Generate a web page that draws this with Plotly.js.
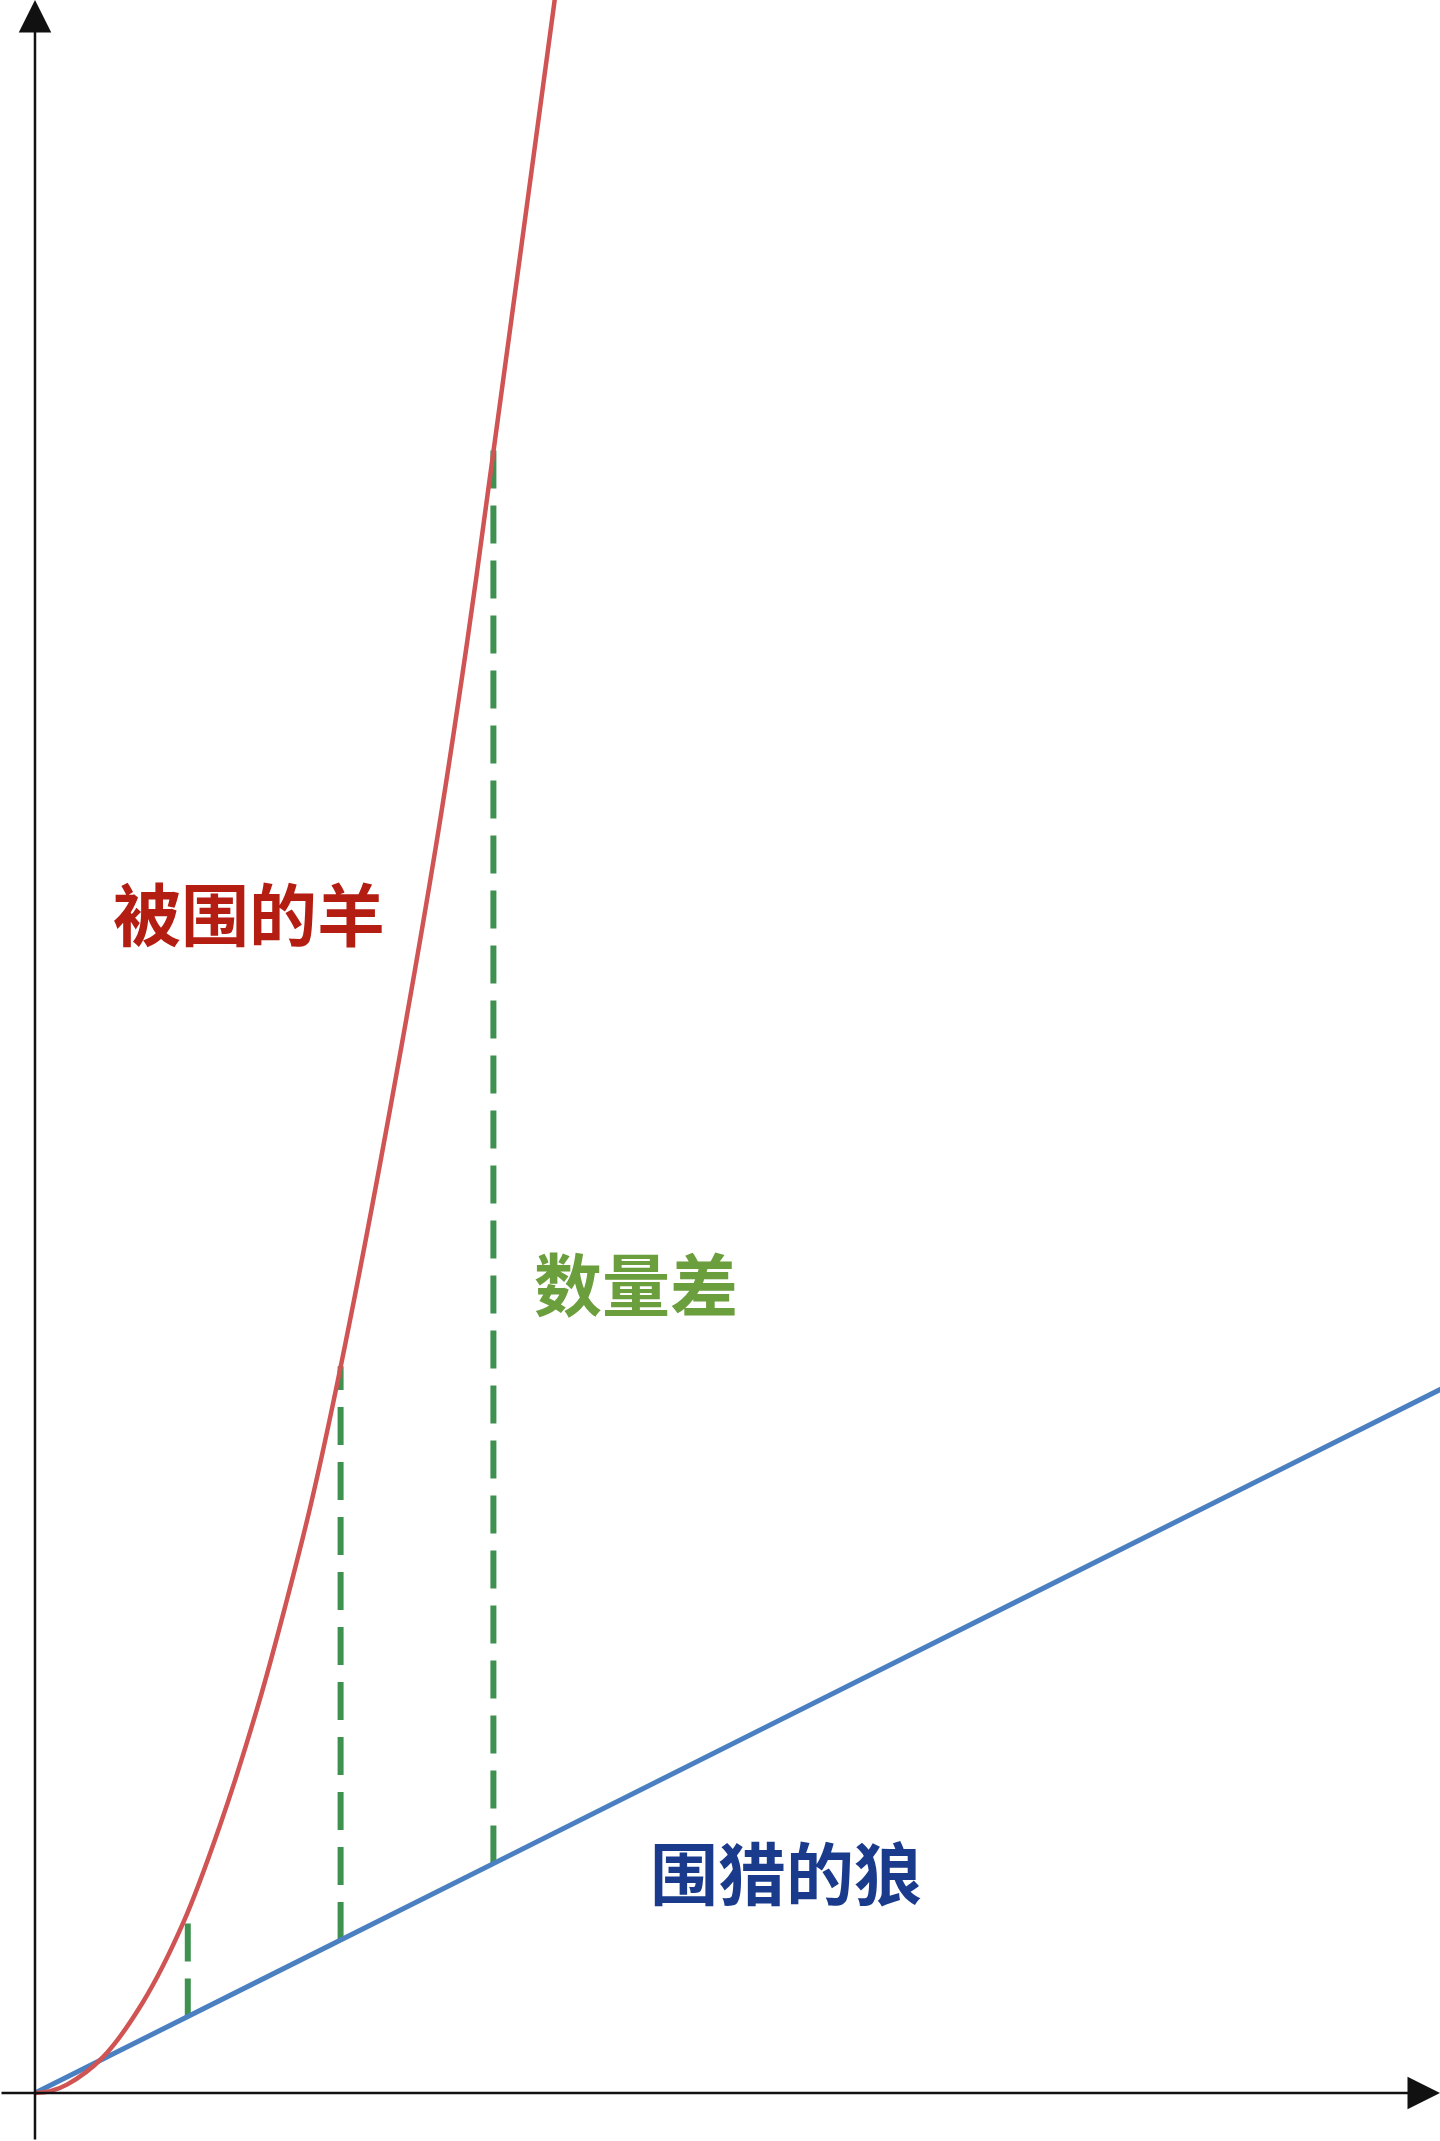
<!DOCTYPE html>
<html>
<head>
<meta charset="utf-8">
<script src="https://cdn.plot.ly/plotly-3.0.1.min.js"></script>
<style>
  html, body { margin: 0; padding: 0; background: #fff; }
  #chart { width: 1440px; height: 2141px; }
</style>
</head>
<body>
<div id="chart"></div>
<script>
// sheep surrounded (red curve)
const sheepT = [0, 0.1, 0.209, 0.445, 0.707, 0.969, 1.211, 1.459, 1.636, 1.806, 1.996, 2.277, 2.624, 2.827, 3.010, 3.397, 3.44];
const sheepN = [0, 0.025, 0.11, 0.47, 1.19, 2.22, 3.50, 5.06, 6.35, 7.70, 9.45, 12.35, 16.3, 18.95, 21.6, 27.3, 27.95];
// hunting wolves (blue line)
const wolfT = [0, 9.4];
const wolfN = [0, 9.4];
// gap markers (green dashes)
const gapT = [1, 2, 3];
const gapTop = [2.3, 9.5, 21.6];
const gapBottom = [1, 2, 3];

const labels = ['被围的羊', '数量差', '围猎的狼'];
const labelColors = ['#b41d12', '#6b9e3c', '#1a3a8c'];

const xRange = [-0.229, 9.195];
const yRange = [-0.627, 27.36];

const traces = [];
gapT.forEach((t, i) => {
  traces.push({
    x: [t, t], y: [gapBottom[i], gapTop[i]],
    mode: 'lines', line: { color: '#3f9150', width: 6, dash: '38px,17px' },
    hoverinfo: 'skip'
  });
});
traces.push({
  x: wolfT, y: wolfN, mode: 'lines',
  line: { color: '#4a80c2', width: 5 }, hoverinfo: 'skip'
});
traces.push({
  x: sheepT, y: sheepN, mode: 'lines',
  line: { color: '#d05454', width: 4.5, shape: 'spline', smoothing: 1 }, hoverinfo: 'skip'
});

const font = (c) => ({ family: '"Noto Sans CJK SC", "Noto Sans", sans-serif', size: 68, color: c, weight: 700 });

const annotations = [
  // axes with arrows
  { x: 0, y: yRange[1], ax: 0, ay: yRange[0], xref: 'x', yref: 'y', axref: 'x', ayref: 'y',
    text: '', showarrow: true, arrowhead: 2, arrowsize: 2.6, arrowwidth: 2.5, arrowcolor: '#111', standoff: 0 },
  { x: xRange[1], y: 0, ax: xRange[0], ay: 0, xref: 'x', yref: 'y', axref: 'x', ayref: 'y',
    text: '', showarrow: true, arrowhead: 2, arrowsize: 2.6, arrowwidth: 2.5, arrowcolor: '#111', standoff: 0 },
  { x: 1.40, y: 15.45, text: labels[0], showarrow: false, font: font(labelColors[0]) },
  { x: 3.93, y: 10.61, text: labels[1], showarrow: false, font: font(labelColors[1]) },
  { x: 4.915, y: 2.915, text: labels[2], showarrow: false, font: font(labelColors[2]) }
];

Plotly.newPlot('chart', traces, {
  width: 1440, height: 2141,
  margin: { l: 0, r: 0, t: 0, b: 0 },
  paper_bgcolor: '#fff', plot_bgcolor: '#fff',
  showlegend: false,
  xaxis: { range: xRange, visible: false, fixedrange: true },
  yaxis: { range: yRange, visible: false, fixedrange: true },
  annotations: annotations
}, { displayModeBar: false, staticPlot: true });
</script>
</body>
</html>
